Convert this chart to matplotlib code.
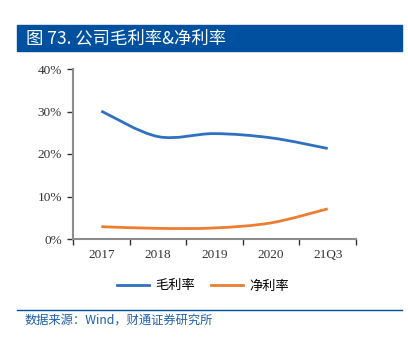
import matplotlib
matplotlib.use("Agg")
import matplotlib.pyplot as plt
import numpy as np
from matplotlib.path import Path
from matplotlib.patches import PathPatch, Rectangle
from matplotlib.lines import Line2D

categories = ["2017", "2018", "2019", "2020", "21Q3"]
gross_margin = [30.1, 24.1, 24.8, 23.8, 21.3]
net_margin = [2.9, 2.5, 2.6, 3.8, 7.1]
y_ticks = [0, 10, 20, 30, 40]

BLUE = "#3070C0"
ORANGE = "#ED7D31"
AXIS = "#8C8C8C"
HEAD = "#0050A0"
CJK = ["Noto Sans CJK SC", "DejaVu Sans"]


def smooth_path(xs, ys):
    # Catmull-Rom -> cubic Bezier, similar to Excel's smoothed line
    pts = np.column_stack([xs, ys]).astype(float)
    p = np.vstack([pts[0], pts, pts[-1]])
    verts = [tuple(pts[0])]
    codes = [Path.MOVETO]
    for i in range(1, len(p) - 2):
        c1 = p[i] + (p[i + 1] - p[i - 1]) / 6
        c2 = p[i + 1] - (p[i + 2] - p[i]) / 6
        verts += [tuple(c1), tuple(c2), tuple(p[i + 1])]
        codes += [Path.CURVE4] * 3
    return Path(verts, codes)


fig = plt.figure(figsize=(4.08, 3.44), dpi=100)

# header bar
fig.patches.append(Rectangle((17 / 408, 1 - 51 / 344), 385 / 408, 26 / 344,
                             transform=fig.transFigure, color=HEAD, zorder=0))
fig.text(26 / 408, 1 - 38 / 344, "图 73. 公司毛利率&净利率", color="white",
         fontsize=12.5, family=CJK, va="center", ha="left", weight="medium")

ax = fig.add_axes([73 / 408, 1 - 239 / 344, 283 / 408, 170 / 344])
x = np.arange(len(categories))
for ys, col in [(gross_margin, BLUE), (net_margin, ORANGE)]:
    ax.add_patch(PathPatch(smooth_path(x, ys), fill=False, edgecolor=col,
                           lw=2, capstyle="butt"))

ax.set_xlim(-0.5, len(categories) - 0.5)
ax.set_ylim(0, 40)
ax.set_yticks(y_ticks)
ax.set_yticklabels([f"{v}%" for v in y_ticks], family="Liberation Serif",
                   fontsize=9.5, color="#333333")
ax.set_xticks(x)
ax.set_xticklabels(categories, family="Liberation Serif", fontsize=9.5,
                   color="#333333")
ax.tick_params(axis="x", which="major", length=0, pad=7)
ax.set_xticks(np.arange(-0.5, len(categories)), minor=True)
ax.tick_params(axis="x", which="minor", length=4, width=1, color="#333333")
ax.tick_params(axis="y", length=4, width=1, color="#333333", pad=4)
for s in ["top", "right"]:
    ax.spines[s].set_visible(False)
for s in ["left", "bottom"]:
    ax.spines[s].set_color(AXIS)
    ax.spines[s].set_linewidth(1.5)

handles = [Line2D([], [], color=BLUE, lw=2), Line2D([], [], color=ORANGE, lw=2)]
fig.legend(handles, ["毛利率", "净利率"], loc="center",
           bbox_to_anchor=(203 / 408, 1 - 286 / 344), ncol=2, frameon=False,
           prop={"family": CJK, "size": 9.5, "weight": "light"},
           handlelength=2.4, columnspacing=1.2, handletextpad=0.5)

# source line
fig.add_artist(Line2D([17 / 408, 402 / 408], [1 - 310 / 344, 1 - 310 / 344],
                      transform=fig.transFigure, color=HEAD, lw=1))
fig.text(25 / 408, 1 - 320 / 344, "数据来源：Wind，财通证券研究所", color="#1F5FA8",
         fontsize=8.8, family=CJK, va="center", ha="left", weight="medium")

fig.savefig("out.png", dpi=100)
